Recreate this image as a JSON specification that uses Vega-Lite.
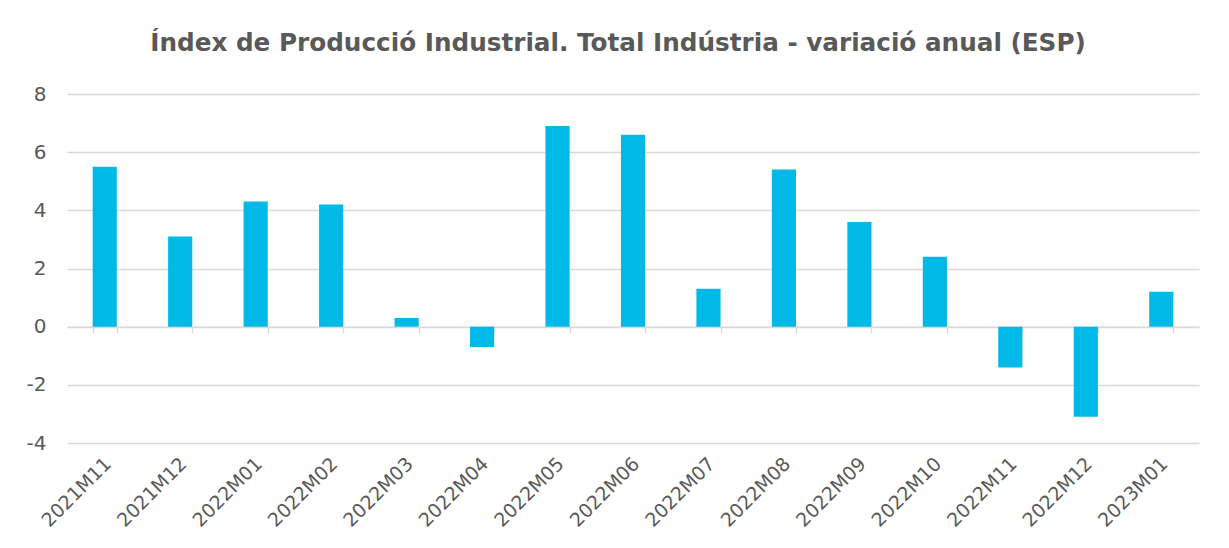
{
  "$schema": "https://vega.github.io/schema/vega-lite/v6.json",
  "width": 1132,
  "height": 349,
  "autosize": {"type": "none"},
  "padding": {"left": 67, "top": 94, "right": 30, "bottom": 105},
  "background": "white",
  "config": {"view": {"stroke": null}, "font": "DejaVu Sans"},
  "title": {
    "text": "Índex de Producció Industrial. Total Indústria - variació anual (ESP)",
    "font": "DejaVu Sans",
    "fontSize": 24.7,
    "fontWeight": "bold",
    "color": "#595959",
    "anchor": "middle",
    "dx": -15,
    "offset": 28
  },
  "data": {
    "values": [
      {"periode": "2021M11", "valor": 5.5},
      {"periode": "2021M12", "valor": 3.1},
      {"periode": "2022M01", "valor": 4.3},
      {"periode": "2022M02", "valor": 4.2},
      {"periode": "2022M03", "valor": 0.3},
      {"periode": "2022M04", "valor": -0.7},
      {"periode": "2022M05", "valor": 6.9},
      {"periode": "2022M06", "valor": 6.6},
      {"periode": "2022M07", "valor": 1.3},
      {"periode": "2022M08", "valor": 5.4},
      {"periode": "2022M09", "valor": 3.6},
      {"periode": "2022M10", "valor": 2.4},
      {"periode": "2022M11", "valor": -1.4},
      {"periode": "2022M12", "valor": -3.1},
      {"periode": "2023M01", "valor": 1.2}
    ]
  },
  "encoding": {
    "y": {
      "field": "valor",
      "type": "quantitative",
      "title": null,
      "scale": {"domain": [-4, 8], "nice": false},
      "axis": {
        "values": [-4, -2, 0, 2, 4, 6, 8],
        "labelExpr": "replace(datum.label, '−', '-')",
        "labelFont": "DejaVu Sans",
        "labelFontSize": 20,
        "labelColor": "#595959",
        "labelPadding": 21,
        "ticks": false,
        "domain": false,
        "gridColor": "#D9D9D9",
        "gridWidth": 1.3
      }
    }
  },
  "layer": [
    {
      "mark": {"type": "bar", "color": "#00B9E7"},
      "encoding": {
        "x": {
          "field": "periode",
          "type": "nominal",
          "sort": null,
          "title": null,
          "scale": {"paddingInner": 0.68, "paddingOuter": 0.34},
          "axis": {
            "orient": "bottom",
            "labelAngle": -45,
            "labelFont": "DejaVu Sans",
            "labelFontSize": 19,
            "labelColor": "#595959",
            "labelPadding": 11,
            "labelOffset": -3,
            "ticks": false,
            "domain": false,
            "grid": false
          }
        }
      }
    },
    {
      "mark": {"type": "bar", "opacity": 0},
      "encoding": {
        "x": {
          "field": "periode",
          "type": "nominal",
          "sort": null,
          "title": null,
          "axis": {
            "orient": "bottom",
            "labels": false,
            "ticks": true,
            "tickBand": "extent",
            "tickSize": 6,
            "tickColor": "#D9D9D9",
            "tickWidth": 1.3,
            "domain": true,
            "domainColor": "#D9D9D9",
            "domainWidth": 1.3,
            "offset": -116.33,
            "grid": false
          }
        }
      }
    }
  ],
  "resolve": {"axis": {"x": "independent"}}
}
